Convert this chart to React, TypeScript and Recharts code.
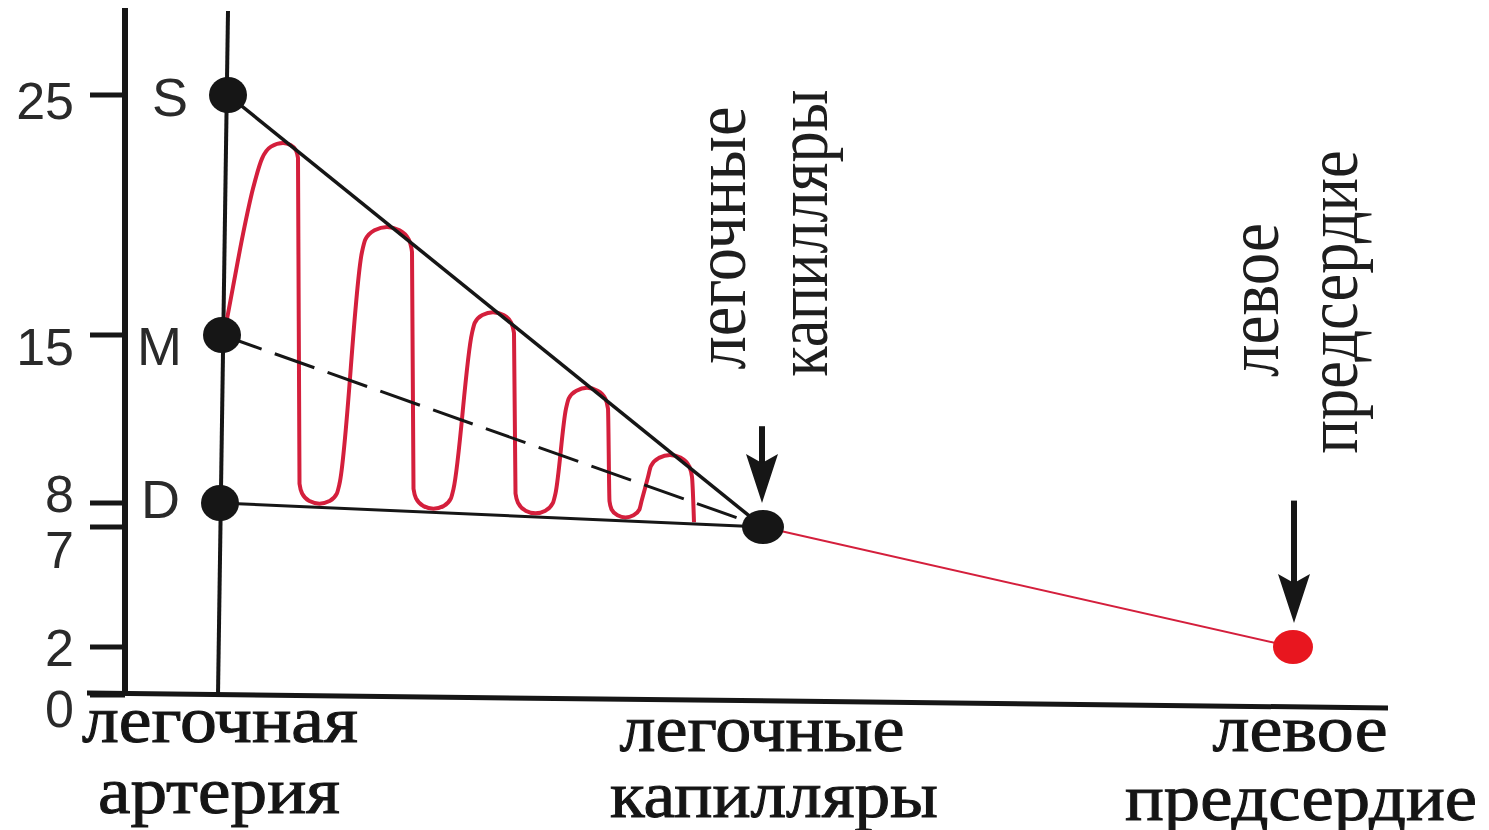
import React from "react";
import {
  ComposedChart,
  Line,
  Scatter,
  XAxis,
  YAxis,
  ReferenceLine,
  ReferenceDot,
} from "recharts";

// pressure scale, mm Hg
const yTicks = [0, 2, 7, 8, 15, 25];

// sites along the pulmonary circuit
const siteNames = [
  ["легочная", "артерия"],
  ["легочные", "капилляры"],
  ["левое", "предсердие"],
];
const siteX = [9.5, 63.8, 116.8];

// systolic / mean / diastolic at the pulmonary artery
const pressureNames = ["S", "M", "D"];
const arteryX = [10.3, 9.7, 9.5];
const arteryPressure = [25, 15, 8];

const capillaryX = 63.8;
const capillaryPressure = 7;
const atriumX = 116.8;
const atriumPressure = 2;

// pulsating pressure curve (rounded loops)
const waveX = [
  9.9, 10.8, 11.8, 12.8, 13.7, 14.6, 15.8, 16.55, 17.1, 17.3,
  17.45, 17.72, 18.45, 19.45, 20.45, 21.18, 21.45,
  23.7, 24.04, 24.95, 26.2, 27.45, 28.37, 28.7,
  28.85, 29.12, 29.85, 30.85, 31.85, 32.58, 32.85,
  34.7, 34.98, 35.75, 36.8, 37.85, 38.62, 38.9,
  39.05, 39.32, 40.05, 41.05, 42.05, 42.78, 43.05,
  44.1, 44.38, 45.15, 46.2, 47.25, 48.02, 48.3,
  48.45, 48.66, 49.25, 50.05, 50.85, 51.44, 51.65,
  52.3, 52.59, 53.4, 54.5, 55.6, 56.41, 56.7,
  56.9,
];
const wavePressure = [
  15.0, 17.0, 19.2, 21.1, 22.35, 22.85, 23.0, 22.92, 22.69, 22.375,
  8.8, 8.39, 8.08, 7.97, 8.08, 8.39, 8.8,
  18.46, 18.98, 19.36, 19.5, 19.36, 18.98, 18.46,
  8.59, 8.18, 7.87, 7.76, 7.87, 8.18, 8.59,
  15.08, 15.51, 15.83, 15.95, 15.83, 15.51, 15.08,
  8.4, 7.99, 7.68, 7.57, 7.68, 7.99, 8.4,
  11.93, 12.36, 12.68, 12.8, 12.68, 12.36, 11.93,
  8.07, 7.73, 7.49, 7.4, 7.49, 7.73, 8.07,
  9.08, 9.54, 9.88, 10.0, 9.88, 9.54, 9.08,
  7.2,
];

// vertical side captions
const sideCaptions = [
  ["легочные", "капилляры"],
  ["левое", "предсердие"],
];

const arteryData = pressureNames.map((name, i) => ({
  name,
  x: arteryX[i],
  y: arteryPressure[i],
}));
const toCapillary = (i: number) => [
  { x: arteryX[i], y: arteryPressure[i] },
  { x: capillaryX, y: capillaryPressure },
];
const waveData = waveX.map((x, i) => ({ x, y: wavePressure[i] }));
const venousData = [
  { x: capillaryX, y: capillaryPressure },
  { x: atriumX, y: atriumPressure },
];

const INK = "#161616";
const RED = "#d41f3c";

const Y_LABEL_SHIFT: Record<number, number> = { 25: 5, 15: 11, 8: -10, 7: 22, 2: 0, 0: 13 };
const NAME_SHIFT: Record<string, number> = { S: 2, M: 11, D: -4 };

const YTick = (props: any) => {
  const { x, y, payload } = props;
  return (
    <text
      x={x - 14}
      y={y + (Y_LABEL_SHIFT[payload.value] ?? 0)}
      dy="0.36em"
      textAnchor="end"
      fontFamily="Liberation Sans"
      fontSize={52}
      fill="#2a2a2a"
    >
      {payload.value}
    </text>
  );
};

// [dx, baseline dy, width] for each caption line
const SITE_BOX = [
  [[0, 47, 276], [-1, 118, 242]],
  [[-1, 56, 285], [11, 122, 328]],
  [[7, 56, 175], [8, 125, 352]],
];

const SiteTick = (props: any) => {
  const { x, y, payload } = props;
  const i = siteX.indexOf(payload.value);
  if (i < 0) return null;
  return (
    <g>
      {siteNames[i].map((line, k) => (
        <text
          key={k}
          x={x + SITE_BOX[i][k][0]}
          y={y + SITE_BOX[i][k][1]}
          textAnchor="middle"
          textLength={SITE_BOX[i][k][2]}
          lengthAdjust="spacingAndGlyphs"
          fontFamily="Liberation Serif"
          fontSize={66}
          fill="#151515"
          stroke="#151515"
          strokeWidth={1}
        >
          {line}
        </text>
      ))}
    </g>
  );
};

const ArteryDot = (props: any) => {
  const { cx, cy, payload } = props;
  return (
    <g>
      <ellipse cx={cx} cy={cy} rx={19} ry={18} fill={INK} />
      <text
        x={cx - 40}
        y={cy + (NAME_SHIFT[payload.name] ?? 0)}
        dy="0.36em"
        textAnchor="end"
        fontFamily="Liberation Sans"
        fontSize={54}
        fill="#2a2a2a"
      >
        {payload.name}
      </text>
    </g>
  );
};

const CapillaryDot = (props: any) => (
  <ellipse cx={props.cx} cy={props.cy} rx={21} ry={17} fill={INK} />
);
const AtriumDot = (props: any) => (
  <ellipse cx={props.cx} cy={props.cy} rx={20} ry={17} fill="#e8161f" />
);

const Arrow = (props: any) => {
  const { x1, y1, x2, y2 } = props;
  return (
    <g>
      <line x1={x1} y1={y1} x2={x2} y2={y2 - 30} stroke={INK} strokeWidth={6} />
      <polygon
        points={`${x2},${y2} ${x2 - 16},${y2 - 49} ${x2},${y2 - 40} ${x2 + 16},${y2 - 49}`}
        fill={INK}
      />
    </g>
  );
};

// [x, y, length] for each vertical caption line
const SIDE_BOX = [
  [[62.0, 19.04, 263], [70.2, 19.25, 287]],
  [[115.3, 16.46, 154], [123.2, 16.38, 303]],
];

const SideText = ({ cx, cy, text, len }: any) => (
  <text
    transform={`translate(${cx},${cy}) scale(1.12,1) rotate(-90)`}
    textAnchor="middle"
    textLength={len}
    lengthAdjust="spacingAndGlyphs"
    fontFamily="Liberation Serif"
    fontSize={66}
    fill="#1e1e1e"
  >
    {text}
  </text>
);

export default function App() {
  return (
    <ComposedChart
      width={1473}
      height={822}
      margin={{ top: 0, right: 93, bottom: 0, left: 0 }}
    >
      <XAxis
        type="number"
        dataKey="x"
        domain={[0, 126.3]}
        ticks={siteX}
        interval={0}
        axisLine={false}
        tickLine={false}
        tickSize={0}
        tickMargin={0}
        height={135}
        tick={<SiteTick />}
        allowDataOverflow
      />
      <YAxis
        type="number"
        dataKey="y"
        domain={[0, 28.625]}
        ticks={yTicks}
        interval={0}
        width={117}
        tickSize={35}
        tickMargin={2}
        axisLine={{ stroke: INK, strokeWidth: 6 }}
        tickLine={{ stroke: INK, strokeWidth: 5 }}
        tick={<YTick />}
        allowDataOverflow
      />

      {/* x axis, drawn slightly past the y axis like in the original */}
      <ReferenceLine
        segment={[
          { x: -3.8, y: 0.08 },
          { x: 126.3, y: -0.54 },
        ]}
        stroke={INK}
        strokeWidth={5}
        ifOverflow="visible"
      />
      {/* pulmonary artery marker */}
      <ReferenceLine
        segment={[
          { x: 10.3, y: 28.5 },
          { x: 9.3, y: 0 },
        ]}
        stroke={INK}
        strokeWidth={4}
        ifOverflow="visible"
      />

      <Line
        data={waveData}
        dataKey="y"
        type="monotone"
        stroke={RED}
        strokeWidth={4}
        dot={false}
        isAnimationActive={false}
      />
      <Line
        data={toCapillary(0)}
        dataKey="y"
        type="linear"
        stroke={INK}
        strokeWidth={3.5}
        dot={false}
        isAnimationActive={false}
      />
      <Line
        data={toCapillary(1)}
        dataKey="y"
        type="linear"
        stroke={INK}
        strokeWidth={3}
        strokeDasharray="42 14"
        dot={false}
        isAnimationActive={false}
      />
      <Line
        data={toCapillary(2)}
        dataKey="y"
        type="linear"
        stroke={INK}
        strokeWidth={3}
        dot={false}
        isAnimationActive={false}
      />
      <Line
        data={venousData}
        dataKey="y"
        type="linear"
        stroke={RED}
        strokeWidth={2}
        dot={false}
        isAnimationActive={false}
      />

      <Scatter data={arteryData} dataKey="y" shape={<ArteryDot />} isAnimationActive={false} />
      <Scatter
        data={[{ x: capillaryX, y: capillaryPressure }]}
        dataKey="y"
        shape={<CapillaryDot />}
        isAnimationActive={false}
      />
      <Scatter
        data={[{ x: atriumX, y: atriumPressure }]}
        dataKey="y"
        shape={<AtriumDot />}
        isAnimationActive={false}
      />

      <ReferenceLine
        segment={[
          { x: 63.7, y: 11.2 },
          { x: 63.7, y: 8.0 },
        ]}
        shape={Arrow}
        ifOverflow="visible"
      />
      <ReferenceLine
        segment={[
          { x: 116.9, y: 8.1 },
          { x: 116.9, y: 3.0 },
        ]}
        shape={Arrow}
        ifOverflow="visible"
      />

      {sideCaptions.map((pair, i) =>
        pair.map((text, k) => (
          <ReferenceDot
            key={`${i}-${k}`}
            x={SIDE_BOX[i][k][0]}
            y={SIDE_BOX[i][k][1]}
            r={1}
            ifOverflow="visible"
            shape={(p: any) => <SideText cx={p.cx} cy={p.cy} text={text} len={SIDE_BOX[i][k][2]} />}
          />
        ))
      )}
    </ComposedChart>
  );
}
